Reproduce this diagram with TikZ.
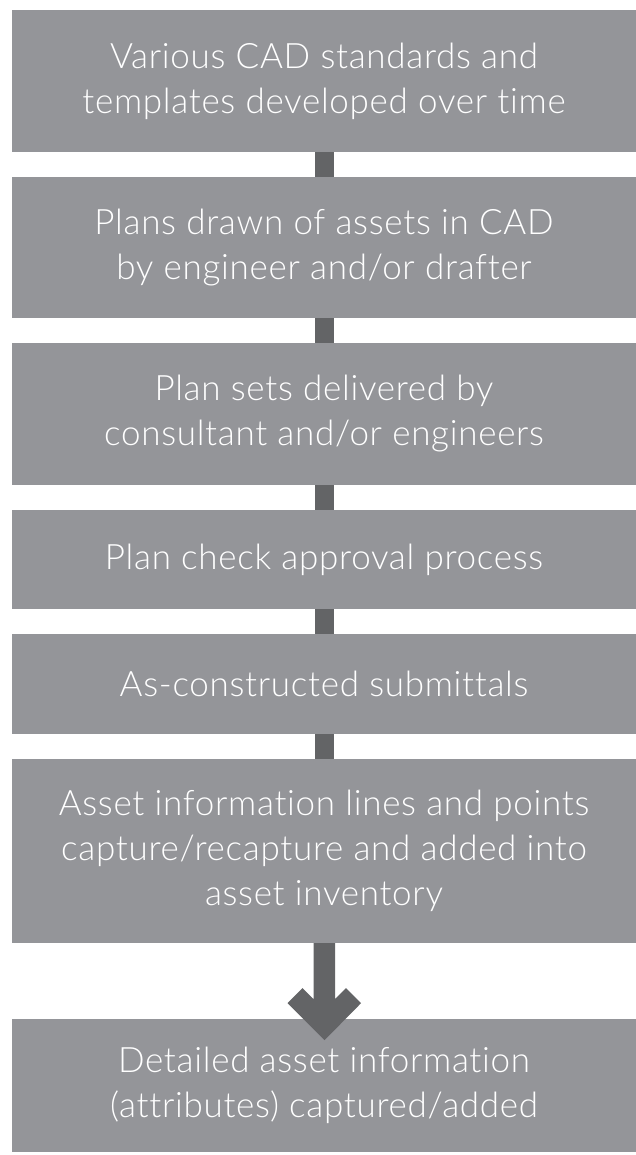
\documentclass[tikz,border=0pt]{standalone}
\usepackage{fontspec}
\setmainfont{Lato}[UprightFont={* Light}, RawFeature={-liga}, LetterSpace=2]
\usetikzlibrary{calc}
\definecolor{boxgray}{HTML}{949599}
\definecolor{conngray}{HTML}{636466}
\tikzset{
  stepbox/.style={fill=boxgray, draw=none, text=white, minimum width=624pt, inner sep=0pt,
    align=center, font=\fontsize{35}{45}\selectfont, anchor=center},
  conn/.style={draw=conngray, line width=19pt},
}
\begin{document}
\begin{tikzpicture}[x=1pt,y=-1pt]
\useasboundingbox (0,0) rectangle (636,1155);
\fill[white] (0,0) rectangle (636,1155);
\node[stepbox, minimum height=142pt] (b1) at (324,81) {Various CAD standards and\\templates developed over time};
\node[stepbox, minimum height=141pt] (b2) at (324,247.5) {Plans drawn of assets in CAD\\by engineer and/or drafter};
\node[stepbox, minimum height=142pt] (b3) at (324,414) {Plan sets delivered by\\consultant and/or engineers};
\node[stepbox, minimum height=99pt] (b4) at (324,559.5) {Plan check approval process};
\node[stepbox, minimum height=100pt] (b5) at (324,684) {As-constructed submittals};
\node[stepbox, minimum height=184pt] (b6) at (324,851) {Asset information lines and points\\capture/recapture and added into\\asset inventory};
\node[stepbox, minimum height=133pt] (b7) at (324,1085.5) {Detailed asset information\\(attributes) captured/added};
\draw[conn] (b1.south) -- (b2.north);
\draw[conn] (b2.south) -- (b3.north);
\draw[conn] (b3.south) -- (b4.north);
\draw[conn] (b4.south) -- (b5.north);
\draw[conn] (b5.south) -- (b6.north);
\fill[conngray] ($(b6.south)+(-10.5,0)$) -- ++(0,56) -- ++(-11,-11) -- ++(-15,15) -- ($(b6.south)+(0.5,97)$)
  -- ($(b6.south)+(37,60)$) -- ++(-15,-15) -- ++(-11,11) -- ($(b6.south)+(11,0)$) -- cycle;
\end{tikzpicture}
\end{document}
